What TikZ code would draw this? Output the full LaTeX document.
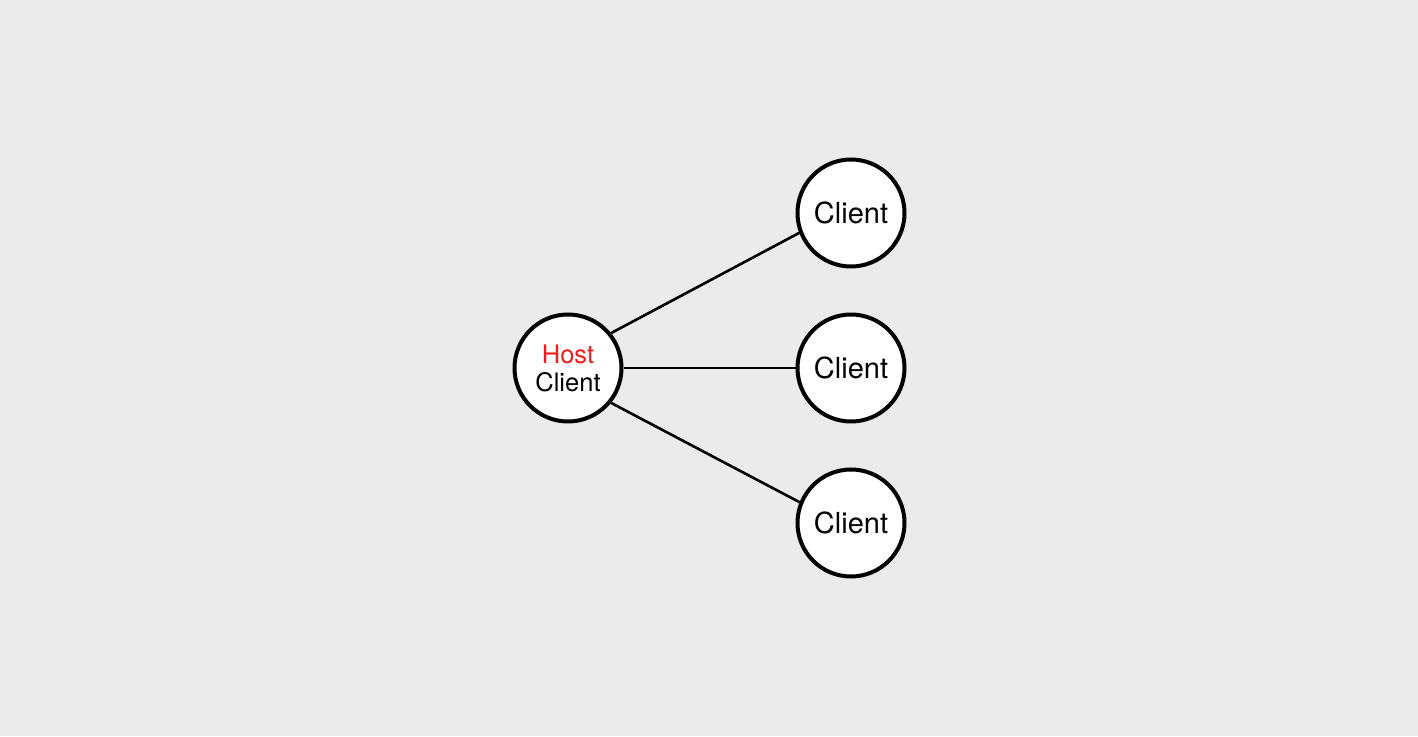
\documentclass[tikz,border=0pt]{standalone}
\usepackage{fontspec}
\setmainfont{TeX Gyre Heros}
\definecolor{bg}{HTML}{EBEBEB}
\definecolor{hostred}{HTML}{EE1C1C}
\begin{document}
\begin{tikzpicture}[x=1pt,y=1pt,
  peer/.style={circle, draw=black, line width=4pt, fill=white, minimum size=107pt, inner sep=0pt, align=center},
  link/.style={line width=2.6pt, draw=black}]
\fill[bg] (0,0) rectangle (1418,736);
\useasboundingbox (0,0) rectangle (1418,736);
\node[peer, font=\fontsize{25.5}{29}\selectfont] (host) at (568,368) {\textcolor{hostred}{Host}\\[-1pt]Client};
\node[peer, font=\fontsize{29}{34}\selectfont] (c1) at (851,523) {Client};
\node[peer, font=\fontsize{29}{34}\selectfont] (c2) at (851,368) {Client};
\node[peer, font=\fontsize{29}{34}\selectfont] (c3) at (851,213) {Client};
\draw[link] (host.39) -- (c1.201);
\draw[link] (host) -- (c2);
\draw[link] (host.-39) -- (c3.158);
\end{tikzpicture}
\end{document}
